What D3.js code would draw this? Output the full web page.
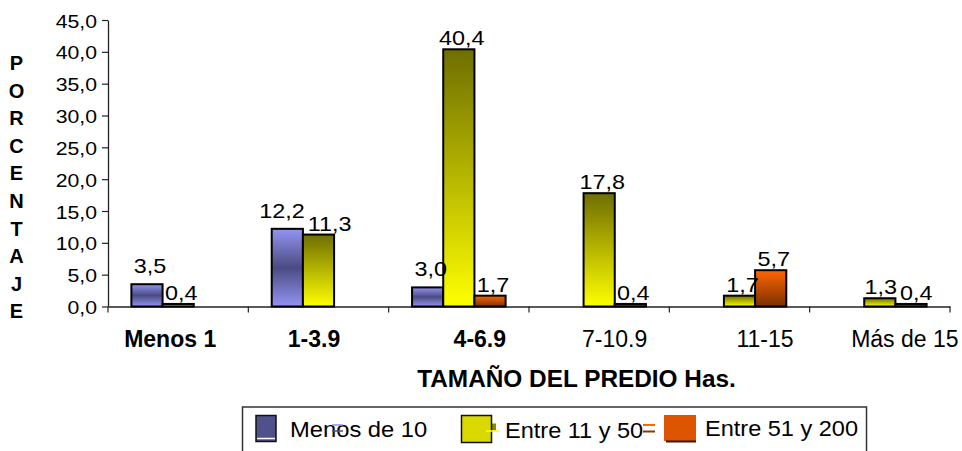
<!DOCTYPE html>
<html>
<head>
<meta charset="utf-8">
<script src="https://cdn.jsdelivr.net/npm/d3@7"></script>
<style>
  html, body { margin: 0; padding: 0; background: #fff; }
  svg { display: block; font-family: Arial, "Liberation Sans", sans-serif; }
</style>
</head>
<body>
<svg id="chart" width="962" height="451"></svg>
<script>
// ---------- data ----------
const categories = ["Menos 1", "1-3.9", "4-6.9", "7-10.9", "11-15", "Más de 15"];
const boldCategories = ["Menos 1", "1-3.9", "4-6.9"];
const seriesNames = ["Menos de 10", "Entre 11 y 50", "Entre 51 y 200"];
const menosDe10   = [3.5, 12.2, 3.0, null, null, null];
const entre11y50  = [0.4, 11.3, 40.4, 17.8, 1.7, 1.3];
const entre51y200 = [null, null, 1.7, 0.4, 5.7, 0.4];
const yTicks = [0, 5, 10, 15, 20, 25, 30, 35, 40, 45];
const yTitle = "PORCENTAJE";
const xTitle = "TAMAÑO DEL PREDIO Has.";

// ---------- layout ----------
const svg = d3.select("#chart");
const plotL = 108, plotR = 950, plotT = 20, plotB = 306.5;
const seriesValues = [menosDe10, entre11y50, entre51y200];

const x0 = d3.scaleBand().domain(categories).range([plotL, plotR]).paddingInner(0).paddingOuter(0);
const x1 = d3.scaleBand().domain(seriesNames).range([0, x0.bandwidth()]).paddingInner(0).paddingOuter(0.75);
const y = d3.scaleLinear().domain([0, 45]).range([plotB, plotT]);

const fmt = v => d3.format(".1f")(v).replace(".", ",");

// gradients
const defs = svg.append("defs");
const grads = [
  { id: "g0", stops: [[0, "#9494F4"], [0.5, "#4B4B82"], [1, "#9494F4"]] },
  { id: "g1", stops: [[0, "#6E6E00"], [1, "#FFFF00"]] },
  { id: "g2", stops: [[0, "#FF6600"], [1, "#7A3000"]] }
];
grads.forEach(g => {
  const lgd = defs.append("linearGradient").attr("id", g.id)
    .attr("x1", 0).attr("y1", 0).attr("x2", 0).attr("y2", 1);
  g.stops.forEach(s => lgd.append("stop").attr("offset", s[0]).attr("stop-color", s[1]));
});

function sText(parent, x, yy, txt, size, sx, anchor, weight) {
  return parent.append("text")
    .attr("transform", `translate(${x},${yy}) scale(${sx},1)`)
    .attr("text-anchor", anchor)
    .attr("font-size", size)
    .attr("font-weight", weight || "normal")
    .attr("fill", "#000")
    .text(txt);
}

// ---------- axes ----------
const yAxis = d3.axisLeft(y).tickValues(yTicks).tickSize(6).tickSizeOuter(0).tickFormat(fmt);
const gy = svg.append("g").attr("transform", `translate(${plotL},0)`).call(yAxis);
gy.select(".domain").attr("stroke", "#222").attr("stroke-width", 1.3);
gy.selectAll(".tick line").attr("stroke", "#222").attr("stroke-width", 1.2);
gy.selectAll(".tick text")
  .attr("x", 0).attr("dy", null)
  .attr("transform", "translate(-11,7) scale(1.18,1)")
  .attr("font-size", 18).attr("fill", "#000")
  .attr("font-family", "Arial, 'Liberation Sans', sans-serif");

const xAxis = d3.axisBottom(x0).tickSize(0).tickSizeOuter(0).tickFormat("");
const gx = svg.append("g").attr("transform", `translate(0,${plotB})`).call(xAxis);
gx.select(".domain").attr("stroke", "#222").attr("stroke-width", 1.3);
const boundaries = categories.map(c => x0(c)).concat([x0.range()[1]]);
gx.selectAll(".bnd").data(boundaries).join("line").attr("class", "bnd")
  .attr("x1", d => d).attr("x2", d => d).attr("y1", 0).attr("y2", 6)
  .attr("stroke", "#222").attr("stroke-width", 1.2);

// category labels
const catShift = [-8, -4.5, 21, 15.5, 25.5, 25];
categories.forEach((c, i) => {
  sText(svg, x0(c) + x0.bandwidth() / 2 + catShift[i], 346.5, c, 23, 1,
        "middle", boldCategories.includes(c) ? "bold" : "normal");
});

// axis titles
sText(svg, 576.5, 386.5, xTitle, 23, 1.06, "middle", "bold");
yTitle.split("").forEach((ch, i) => {
  sText(svg, 16.5, 70 + i * 27.6, ch, 20, 1, "middle", "bold");
});

// ---------- bars ----------
const bars = svg.append("g");
seriesNames.forEach((s, si) => {
  const vals = seriesValues[si];
  categories.forEach((c, ci) => {
    const v = vals[ci];
    if (v === null || v === undefined) return;
    const bx = x0(c) + x1(s);
    bars.append("rect")
      .attr("x", bx).attr("y", y(v))
      .attr("width", x1.bandwidth()).attr("height", y(0) - y(v))
      .attr("fill", `url(#g${si})`)
      .attr("stroke", "#000").attr("stroke-width", 2);
  });
});
// data labels (with simple collision resolution inside each category)
const labelG = svg.append("g");
categories.forEach((c, ci) => {
  const placed = [];
  seriesNames.forEach((s, si) => {
    const v = seriesValues[si][ci];
    if (v === null || v === undefined) return;
    const cx = x0(c) + x1(s) + x1.bandwidth() / 2 + 3;
    const off = si === 0 ? 11 : 4;
    const yy = y(v) - off;
    const t = sText(labelG, cx, yy, fmt(v), 20, 1.17, "middle");
    placed.push({ t, cx, yy, w: t.node().getBBox().width * 1.17 });
  });
  for (let i = 1; i < placed.length; i++) {
    const a = placed[i - 1], b = placed[i];
    const overlapX = (a.cx + a.w / 2) - (b.cx - b.w / 2) + 3;
    const overlapY = Math.abs(a.yy - b.yy) < 16;
    if (overlapX > 0 && overlapY) {
      a.cx -= overlapX / 2; b.cx += overlapX / 2;
      a.t.attr("transform", `translate(${a.cx},${a.yy}) scale(1.17,1)`);
      b.t.attr("transform", `translate(${b.cx},${b.yy}) scale(1.17,1)`);
    }
  }
});

// ---------- legend ----------
const lg = svg.append("g");
lg.append("rect").attr("x", 242.5).attr("y", 407).attr("width", 624).attr("height", 60)
  .attr("fill", "#fff").attr("stroke", "#333").attr("stroke-width", 1.5);
// Menos de 10
lg.append("rect").attr("x", 256).attr("y", 415.5).attr("width", 20).attr("height", 26)
  .attr("fill", "#50508A").attr("stroke", "#111").attr("stroke-width", 1.5);
lg.append("line").attr("x1", 257).attr("x2", 275).attr("y1", 438.5).attr("y2", 438.5)
  .attr("stroke", "#fff").attr("stroke-width", 1.5);
sText(lg, 290, 436.5, seriesNames[0], 22, 1.08, "start");
lg.append("line").attr("x1", 332).attr("x2", 343).attr("y1", 425).attr("y2", 425).attr("stroke", "#8C8CEB").attr("stroke-width", 1.5);
lg.append("line").attr("x1", 332).attr("x2", 343).attr("y1", 431).attr("y2", 431).attr("stroke", "#50508A").attr("stroke-width", 1.5);
// Entre 11 y 50
lg.append("rect").attr("x", 491).attr("y", 423.5).attr("width", 5).attr("height", 7).attr("fill", "#8A8A00");
lg.append("rect").attr("x", 461.5).attr("y", 415.5).attr("width", 30).attr("height", 27)
  .attr("fill", "#D9D900").attr("stroke", "#111").attr("stroke-width", 1.5);
lg.append("line").attr("x1", 486).attr("x2", 499).attr("y1", 431).attr("y2", 431).attr("stroke", "#FFFF00").attr("stroke-width", 1.5);
sText(lg, 505, 438, seriesNames[1], 22, 1.07, "start");
// Entre 51 y 200
lg.append("line").attr("x1", 643).attr("x2", 655).attr("y1", 425).attr("y2", 425).attr("stroke", "#FF6600").attr("stroke-width", 2);
lg.append("line").attr("x1", 643).attr("x2", 655).attr("y1", 431.5).attr("y2", 431.5).attr("stroke", "#8A3A00").attr("stroke-width", 2);
lg.append("rect").attr("x", 664).attr("y", 415).attr("width", 32).attr("height", 26)
  .attr("fill", "#DD5500");
lg.append("line").attr("x1", 666).attr("x2", 696).attr("y1", 441.5).attr("y2", 441.5).attr("stroke", "#3A1500").attr("stroke-width", 2);
sText(lg, 705, 435.5, seriesNames[2], 22, 1.07, "start");
</script>
</body>
</html>
